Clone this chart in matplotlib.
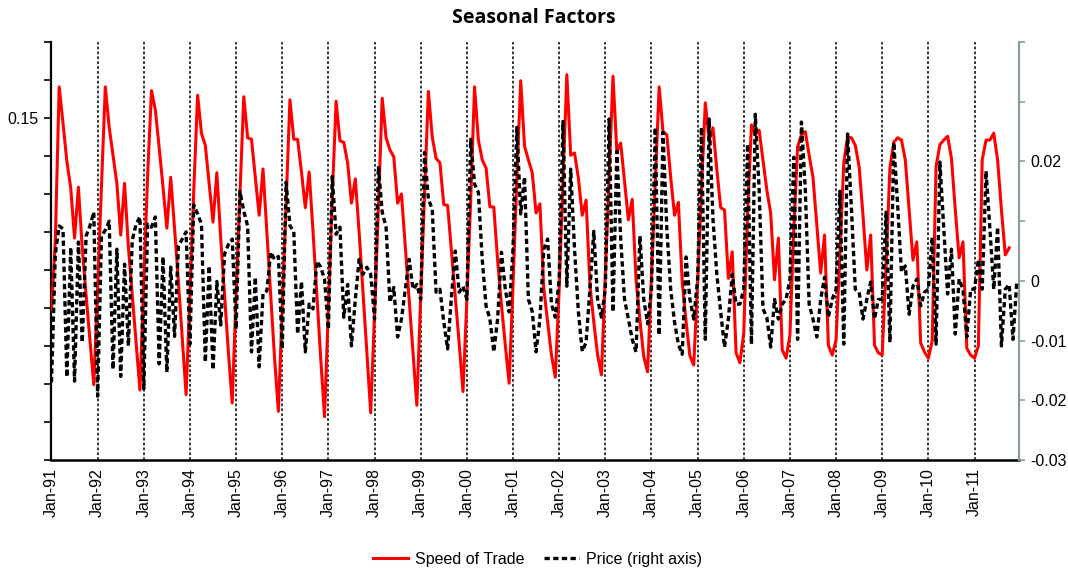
import numpy as np
import matplotlib
matplotlib.use('Agg')
import matplotlib.pyplot as plt
from matplotlib.ticker import FixedLocator, FixedFormatter

plt.rcParams['font.family'] = ['Liberation Sans', 'DejaVu Sans']

# monthly seasonal factors, Jan-91 onwards (one row per year)
speed_of_trade = [
    -0.104, -0.011, 0.191, 0.143, 0.093, 0.058, -0.008, 0.059, -0.021, -0.083, -0.142, -0.201,  # 1991
    -0.075, 0.061, 0.191, 0.138, 0.101, 0.064, -0.004, 0.064, -0.020, -0.083, -0.146, -0.208,   # 1992
    -0.067, 0.075, 0.186, 0.161, 0.111, 0.059, 0.005, 0.072, 0.005, -0.065, -0.139, -0.214,     # 1993
    -0.083, 0.055, 0.180, 0.130, 0.114, 0.064, 0.013, 0.078, -0.008, -0.083, -0.158, -0.225,    # 1994
    -0.084, 0.049, 0.178, 0.124, 0.122, 0.072, 0.022, 0.083, -0.001, -0.083, -0.166, -0.236,    # 1995
    -0.099, 0.037, 0.174, 0.122, 0.122, 0.079, 0.032, 0.079, 0.001, -0.083, -0.166, -0.243,     # 1996
    -0.099, 0.045, 0.172, 0.120, 0.118, 0.091, 0.038, 0.070, -0.001, -0.079, -0.158, -0.238,    # 1997
    -0.108, 0.033, 0.176, 0.124, 0.108, 0.099, 0.038, 0.050, -0.020, -0.091, -0.162, -0.228,    # 1998
    -0.086, 0.051, 0.185, 0.125, 0.097, 0.091, 0.036, 0.035, -0.025, -0.086, -0.146, -0.210,    # 1999
    -0.090, 0.042, 0.191, 0.121, 0.095, 0.084, 0.033, 0.033, -0.037, -0.096, -0.149, -0.199,    # 2000
    -0.070, 0.070, 0.199, 0.113, 0.095, 0.078, 0.025, 0.037, -0.074, -0.118, -0.162, -0.191,    # 2001
    -0.076, 0.068, 0.207, 0.101, 0.104, 0.071, 0.022, 0.042, -0.070, -0.118, -0.162, -0.188,    # 2002
    -0.057, 0.075, 0.205, 0.106, 0.117, 0.066, 0.016, 0.043, -0.063, -0.116, -0.164, -0.184,    # 2003
    -0.059, 0.066, 0.191, 0.132, 0.128, 0.072, 0.022, 0.039, -0.066, -0.118, -0.163, -0.175,    # 2004
    -0.067, 0.055, 0.170, 0.121, 0.137, 0.082, 0.032, 0.029, -0.061, -0.026, -0.159, -0.172,    # 2005
    -0.133, 0.025, 0.141, 0.128, 0.134, 0.095, 0.055, 0.025, -0.063, -0.008, -0.155, -0.166,    # 2006
    -0.136, 0.003, 0.112, 0.128, 0.132, 0.101, 0.072, 0.009, -0.054, -0.004, -0.149, -0.162,    # 2007
    -0.142, -0.030, 0.091, 0.125, 0.124, 0.114, 0.086, 0.022, -0.050, -0.004, -0.149, -0.159,   # 2008
    -0.162, -0.043, 0.084, 0.118, 0.124, 0.121, 0.095, 0.029, -0.037, -0.013, -0.146, -0.158,   # 2009
    -0.166, -0.143, 0.086, 0.115, 0.121, 0.126, 0.097, 0.029, -0.034, -0.013, -0.153, -0.162,   # 2010
    -0.166, -0.150, 0.095, 0.121, 0.121, 0.130, 0.095, 0.029, -0.030, -0.021,                   # 2011 (to Oct)
]

price = [
    -0.0170, 0.0045, 0.0092, 0.0087, -0.0161, 0.0056, -0.0168, 0.0065, -0.0103, 0.0075, 0.0092, 0.0115,  # 1991
    -0.0193, 0.0075, 0.0085, 0.0100, -0.0148, 0.0053, -0.0160, 0.0028, -0.0109, 0.0068, 0.0095, 0.0107,  # 1992
    -0.0181, 0.0095, 0.0090, 0.0107, -0.0139, 0.0040, -0.0153, 0.0023, -0.0093, 0.0058, 0.0070, 0.0082,  # 1993
    -0.0106, 0.0127, 0.0112, 0.0095, -0.0136, 0.0025, -0.0149, -0.0001, -0.0074, 0.0045, 0.0061, 0.0070,  # 1994
    -0.0081, 0.0150, 0.0117, 0.0092, -0.0119, 0.0006, -0.0144, -0.0021, -0.0017, 0.0048, 0.0036, 0.0041,  # 1995
    -0.0114, 0.0165, 0.0092, 0.0083, -0.0089, -0.0001, -0.0119, -0.0039, -0.0047, 0.0033, 0.0023, 0.0003,  # 1996
    -0.0081, 0.0175, 0.0078, 0.0090, -0.0061, -0.0006, -0.0109, -0.0031, 0.0036, 0.0011, 0.0023, 0.0011,  # 1997
    -0.0064, 0.0192, 0.0115, 0.0090, -0.0036, -0.0011, -0.0094, -0.0064, -0.0014, 0.0036, -0.0014, -0.0006,  # 1998
    -0.0031, 0.0215, 0.0137, 0.0120, -0.0019, -0.0014, -0.0069, -0.0114, -0.0026, 0.0050, -0.0019, -0.0009,  # 1999
    -0.0031, 0.0237, 0.0162, 0.0148, 0.0036, -0.0042, -0.0064, -0.0119, -0.0064, 0.0048, -0.0014, -0.0052,  # 2000
    0.0053, 0.0257, 0.0112, 0.0174, -0.0031, -0.0051, -0.0119, -0.0064, 0.0053, 0.0070, -0.0039, -0.0061,  # 2001
    0.0003, 0.0267, -0.0009, 0.0187, 0.0053, -0.0052, -0.0118, -0.0103, -0.0014, 0.0083, -0.0031, -0.0061,  # 2002
    -0.0014, 0.0271, -0.0052, 0.0217, 0.0070, -0.0031, -0.0064, -0.0098, -0.0119, 0.0075, -0.0031, -0.0072,  # 2003
    -0.0014, 0.0257, -0.0091, 0.0249, 0.0087, -0.0014, -0.0069, -0.0106, -0.0123, 0.0040, -0.0031, -0.0064,  # 2004
    0.0003, 0.0257, -0.0098, 0.0271, 0.0103, 0.0011, -0.0052, -0.0111, -0.0064, 0.0011, -0.0039, -0.0039,  # 2005
    -0.0014, 0.0229, -0.0106, 0.0279, 0.0153, -0.0047, -0.0061, -0.0111, -0.0031, -0.0064, -0.0039, -0.0031,  # 2006
    0.0003, 0.0207, -0.0098, 0.0266, 0.0153, -0.0039, -0.0064, -0.0094, -0.0031, 0.0006, -0.0061, -0.0031,  # 2007
    -0.0014, 0.0150, -0.0106, 0.0246, 0.0120, -0.0014, -0.0019, -0.0064, -0.0031, -0.0002, -0.0064, -0.0031,  # 2008
    -0.0031, 0.0115, -0.0103, 0.0232, 0.0128, 0.0015, 0.0025, -0.0056, -0.0009, 0.0003, -0.0042, -0.0019,  # 2009
    -0.0014, 0.0073, -0.0106, 0.0199, 0.0087, -0.0022, 0.0053, -0.0089, 0.0003, -0.0014, -0.0094, -0.0014,  # 2010
    -0.0014, 0.0036, -0.0014, 0.0184, 0.0087, -0.0014, 0.0090, -0.0109, -0.0014, -0.0006, -0.0098, 0.0000,  # 2011
]

year_labels = ['Jan-91', 'Jan-92', 'Jan-93', 'Jan-94', 'Jan-95', 'Jan-96', 'Jan-97',
               'Jan-98', 'Jan-99', 'Jan-00', 'Jan-01', 'Jan-02', 'Jan-03', 'Jan-04',
               'Jan-05', 'Jan-06', 'Jan-07', 'Jan-08', 'Jan-09', 'Jan-10', 'Jan-11']

left_ticks = [-0.30, -0.25, -0.20, -0.15, -0.10, -0.05, 0.0, 0.05, 0.10, 0.15, 0.20, 0.25]
left_labels = ['', '', '', '', '', '', '', '', '', '0.15', '', '']
right_ticks = [-0.03, -0.02, -0.01, 0.0, 0.01, 0.02, 0.03, 0.04]
right_labels = ['-0.03', '-0.02', '-0.01', '0', '', '0.02', '', '']


def main():
    fig = plt.figure(figsize=(10.68, 5.73), dpi=100)
    ax = fig.add_axes([0.0482, 0.1972, 0.9059, 0.7295])

    x_speed = np.arange(len(speed_of_trade))
    x_price = np.arange(len(price))
    jan_pos = np.arange(len(year_labels)) * 12

    # dotted year separators
    for xp in jan_pos[1:]:
        ax.axvline(xp, color='black', lw=1.1, ls=(0, (1.8, 1.4)), zorder=1)

    line1, = ax.plot(x_speed, speed_of_trade, color='#ff0000', lw=2.2, zorder=3,
                     label='Speed of Trade')
    ax.set_ylim(-0.30, 0.25)
    ax.set_xlim(0, 251.56)
    ax.yaxis.set_major_locator(FixedLocator(left_ticks))
    ax.yaxis.set_major_formatter(FixedFormatter(left_labels))
    ax.tick_params(axis='y', direction='out', length=5, width=1.2, labelsize=11.5, pad=4)

    ax.set_xticks(jan_pos)
    ax.set_xticklabels(year_labels, rotation=90, fontsize=11.5)
    ax.tick_params(axis='x', length=0, pad=6)

    ax2 = ax.twinx()
    line2, = ax2.plot(x_price, price, color='black', lw=2.4, ls=(0, (1.6, 1.0)),
                      zorder=4, label='Price (right axis)')
    ax2.set_ylim(-0.03, 0.04)
    ax2.yaxis.set_major_locator(FixedLocator(right_ticks))
    ax2.yaxis.set_major_formatter(FixedFormatter(right_labels))
    ax2.tick_params(axis='y', direction='out', length=4, width=1.2, labelsize=11.5,
                    color='#8c9c9c', pad=4)

    for a in (ax, ax2):
        a.spines['top'].set_visible(False)
    ax.spines['right'].set_visible(False)
    ax2.spines['left'].set_visible(False)
    ax2.spines['bottom'].set_visible(False)
    ax.spines['left'].set_linewidth(1.6)
    ax.spines['bottom'].set_linewidth(1.8)
    ax2.spines['right'].set_color('#8c9c9c')
    ax2.spines['right'].set_linewidth(1.6)

    fig.text(0.5, 0.968, 'Seasonal Factors', ha='center', va='center',
             fontsize=14, fontweight='bold', family=['Open Sans', 'DejaVu Sans'])

    fig.legend(handles=[line1, line2], loc='center', bbox_to_anchor=(0.503, 0.024),
               ncol=2, frameon=False, fontsize=11.5, handlelength=2.2,
               columnspacing=1.2, handletextpad=0.45)

    fig.savefig('out.png', dpi=100)


if __name__ == '__main__':
    main()
